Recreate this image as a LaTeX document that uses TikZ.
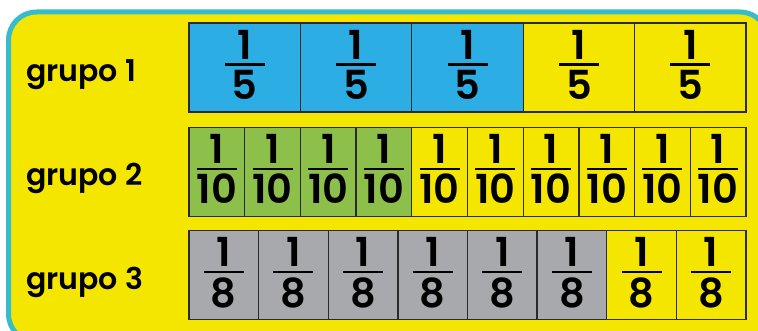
\documentclass[tikz,border=0pt]{standalone}
\usepackage{fontspec}
\setmainfont{Poppins}[UprightFont=* SemiBold]
\definecolor{bgyellow}{HTML}{F5E600}
\definecolor{frameteal}{HTML}{36BCCB}
\definecolor{cblue}{HTML}{2CADE3}
\definecolor{cgreen}{HTML}{8DC04A}
\definecolor{cgray}{HTML}{A8A9AC}
\definecolor{cline}{HTML}{2A2A2A}
\tikzset{
  cellbox/.style={draw=cline, line width=1.3pt, inner sep=0pt, outer sep=0pt, minimum height=89pt},
  digit/.style={font=\fontsize{40}{40}\selectfont, inner sep=0pt, anchor=base},
  fracbar/.style={line width=2.6pt, black},
  grlabel/.style={font=\fontsize{30}{30}\selectfont, inner sep=0pt, anchor=base west}
}
\begin{document}
\begin{tikzpicture}[x=1pt,y=-1pt]
\useasboundingbox (0,0) rectangle (758,331);
\begin{scope}
\clip (0,0) rectangle (758,331);
\fill[white] (0,0) rectangle (758,331);
\draw[frameteal, line width=5pt, fill=bgyellow, rounded corners=28pt] (8.5,12) rectangle (768,342);
\end{scope}
% labels
\node[grlabel] (g1) at (26,82) {grupo 1};
\node[grlabel] (g2) at (26,186) {grupo 2};
\node[grlabel] (g3) at (26,290) {grupo 3};
% rows: #1 row name, #2 top y, #3 number of cells, #4 coloured count, #5 colour, #6 denominator
\newcommand{\fracrow}[6]{%
  \pgfmathsetmacro{\cw}{557/#3}%
  \foreach \i in {1,...,#3}{%
    \pgfmathsetmacro{\cx}{189+(\i-0.5)*\cw}%
    \pgfmathsetmacro{\cy}{#2+44.5}%
    \ifnum\i>#4 \def\cc{bgyellow}\else\def\cc{#5}\fi
    \node[cellbox, fill=\cc, minimum width=\cw pt] (#1c\i) at (\cx,\cy) {};
    \node[digit] (#1n\i) at ([yshift=8pt]#1c\i.center) {1};
    \node[digit] (#1d\i) at ([yshift=-32pt]#1c\i.center) {#6};
    \draw[fracbar] ([xshift=-20pt,yshift=3pt]#1c\i.center) -- ([xshift=20pt,yshift=3pt]#1c\i.center);
  }%
}
\fracrow{ra}{23}{5}{3}{cblue}{5}
\fracrow{rb}{127.5}{10}{4}{cgreen}{10}
\fracrow{rc}{230.5}{8}{6}{cgray}{8}
\end{tikzpicture}
\end{document}
